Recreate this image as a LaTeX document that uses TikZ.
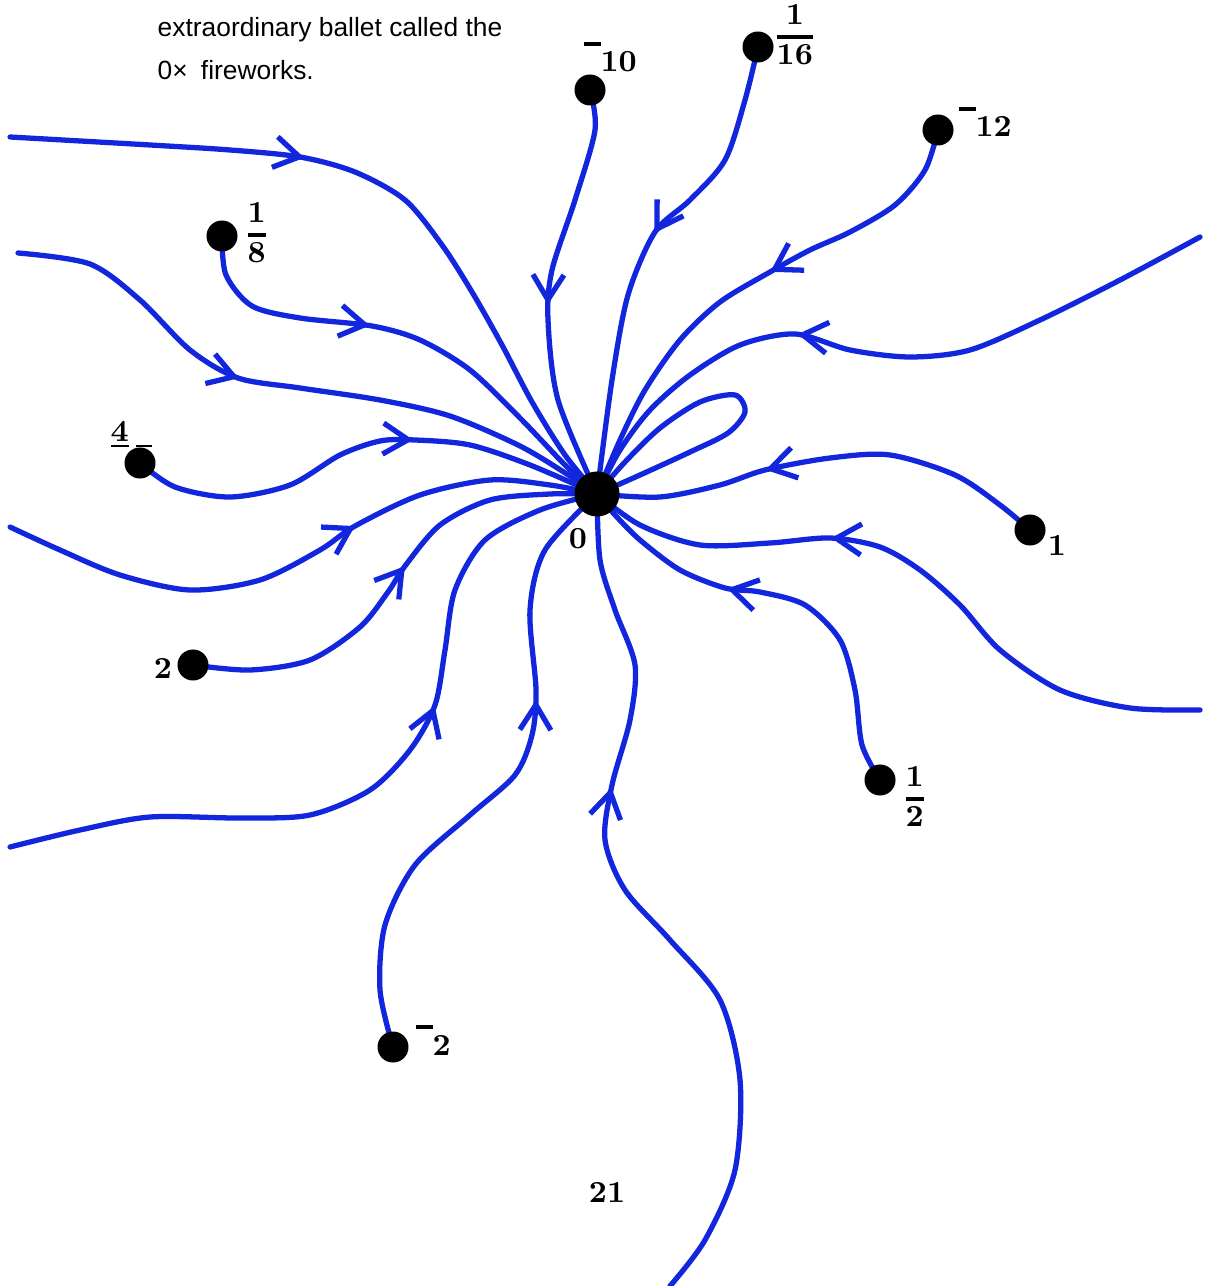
\documentclass[tikz,border=0pt]{standalone}
\usepackage{fontspec}
\newfontfamily\notefont{Liberation Sans}
\usetikzlibrary{arrows.meta,decorations.markings,backgrounds}
\definecolor{fwblue}{RGB}{18,38,222}
\newcommand{\highminus}{\rule[0.85em]{0.55em}{0.13em}}
\newcommand{\numfrac}[2]{{\setlength{\arrayrulewidth}{1pt}\renewcommand{\arraystretch}{1.05}%
  \begin{tabular}{@{}c@{}}#1\\\hline #2\end{tabular}}}

\begin{document}
\begin{tikzpicture}[x=0.01cm,y=-0.01cm,
  dot/.style={circle,fill=black,inner sep=0pt,minimum size=3.1mm},
  lab/.style={inner sep=0pt,font=\fontsize{8.7}{10}\selectfont\bfseries},
  note/.style={inner sep=0pt,font=\notefont\fontsize{7.5}{9}\selectfont},
  curve/.style={fwblue,line width=1.5pt,line cap=round,line join=round},
  flow/.style={curve,postaction={decorate},decoration={markings,
    mark=at position #1 with {\arrow{Straight Barb[length=2.5mm,width=3.1mm]}}}}]
\useasboundingbox (0,0) rectangle (1204,1286);

% the dots
\node[dot,minimum size=4.5mm] (o) at (597,494) {};
\node[dot] (dm10) at (590,90) {};
\node[dot] (d116) at (758,47) {};
\node[dot] (dm12) at (938,130) {};
\node[dot] (d18) at (222,236) {};
\node[dot] (d4) at (140,463) {};
\node[dot] (d2) at (193,665) {};
\node[dot] (dm2) at (393,1047) {};
\node[dot] (dhalf) at (880,780) {};
\node[dot] (d1) at (1030,530) {};

\coordinate (w1) at (10,137);
\coordinate (w2) at (18,253);
\coordinate (w3) at (10,527);
\coordinate (w4) at (10,847);
\coordinate (s1) at (670,1286);
\coordinate (e1) at (1200,710);
\coordinate (e2) at (1200,237);

% labels
\node[lab,anchor=base west] (l10) at (583,72) {\highminus10};
\node[lab,anchor=west] (l116) at (776,37) {\numfrac{1}{16}};
\node[lab,anchor=base west] (l12) at (958,137) {\highminus12};
\node[lab,anchor=west] (l18) at (247,235) {\numfrac{1}{8}};
\node[lab,anchor=base west] (l4) at (110,442) {4\kern-0.575em\rule[-1.3pt]{0.575em}{0.5pt}\kern2pt\rule[-1.3pt]{1.6mm}{0.5pt}};
\node[lab,anchor=base] (l0) at (578,548) {0};
\node[lab,anchor=base] (l1) at (1057,555) {1};
\node[lab,anchor=west] (lhalf) at (905,799) {\numfrac{1}{2}};
\node[lab,anchor=base west] (lm2) at (415,1055) {\highminus2};
\node[lab,anchor=base] (l2) at (163,678) {2};
\node[lab,anchor=base] (page) at (607,1202) {21};

\node[note,anchor=base west] (t1) at (157,37) {extraordinary ballet called the};
\node[note,anchor=base west] (t2) at (157,80) {0×\hspace{0.5em}fireworks.};

\begin{pgfonlayer}{background}
\fill[white] (0,0) rectangle (1204,1286);
% from the left
\draw[flow=2.95cm] plot[smooth] coordinates {(w1) (150,145) (230,150) (300,157) (355,172) (405,200) (442,245) (472,292) (502,345) (532,402) (565,455) (o.center)};
\draw[flow=2.0cm] plot[smooth] coordinates {(d18.center) (226,275) (252,306) (300,318) (372,326) (420,340) (470,370) (520,418) (565,465) (o.center)};
\draw[flow=2.62cm] plot[smooth] coordinates {(w2) (90,264) (140,300) (190,350) (238,378) (300,388) (380,400) (450,416) (520,446) (570,476) (o.center)};
\draw[flow=2.94cm] plot[smooth] coordinates {(d4.center) (175,487) (230,497) (290,485) (340,455) (380,441) (415,440) (470,445) (530,465) (o.center)};
\draw[flow=3.72cm] plot[smooth] coordinates {(w3) (60,550) (120,575) (190,590) (260,580) (320,550) (355,526) (420,495) (490,480) (550,485) (o.center)};
\draw[flow=2.54cm] plot[smooth] coordinates {(d2.center) (250,670) (310,660) (360,627) (388,592) (405,566) (440,525) (490,500) (550,494) (o.center)};
\draw[flow=4.76cm] plot[smooth] coordinates {(w4) (80,830) (150,817) (240,818) (310,815) (370,790) (410,750) (435,705) (445,650) (455,590) (485,540) (540,510) (o.center)};
% from below
\draw[flow=4.05cm] plot[smooth] coordinates {(dm2.center) (380,990) (385,925) (415,865) (470,815) (515,775) (532,735) (536,690) (530,610) (545,550) (o.center)};
\draw[flow=5.6cm] plot[smooth] coordinates {(s1) (705,1240) (735,1170) (740,1080) (720,1000) (670,940) (625,890) (605,840) (612,785) (630,720) (635,665) (615,610) (600,560) (o.center)};
% from the right
\draw[flow=2.77cm] plot[smooth] coordinates {(dhalf.center) (862,745) (855,690) (840,640) (805,605) (760,592) (725,588) (680,570) (640,540) (615,515) (o.center)};
\draw[flow=4.24cm] plot[smooth] coordinates {(e1) (1130,708) (1060,690) (1000,650) (960,605) (920,570) (880,547) (830,538) (770,543) (700,545) (640,525) (o.center)};
\draw[flow=2.87cm] plot[smooth] coordinates {(d1.center) (1000,505) (955,475) (890,455) (830,458) (765,470) (720,485) (660,497) (o.center)};
\draw[curve] plot[smooth] coordinates {(o.center) (625,462) (660,428) (700,402) (735,395) (745,412) (728,433) (690,452) (640,475) (o.center)};
\draw[flow=4.32cm] plot[smooth] coordinates {(e2) (1120,280) (1040,320) (970,350) (910,357) (850,350) (795,334) (740,345) (690,375) (650,410) (620,450) (o.center)};
% from above
\draw[flow=2.3cm] plot[smooth] coordinates {(dm12.center) (925,170) (895,205) (850,232) (810,250) (770,272) (720,302) (680,340) (645,390) (620,440) (o.center)};
\draw[flow=2.2cm] plot[smooth] coordinates {(d116.center) (745,100) (725,160) (690,200) (655,232) (628,295) (612,380) (o.center)};
\draw[flow=2.22cm] plot[smooth] coordinates {(dm10.center) (595,130) (575,200) (552,270) (548,320) (558,400) (o.center)};
\end{pgfonlayer}
\end{tikzpicture}
\end{document}
